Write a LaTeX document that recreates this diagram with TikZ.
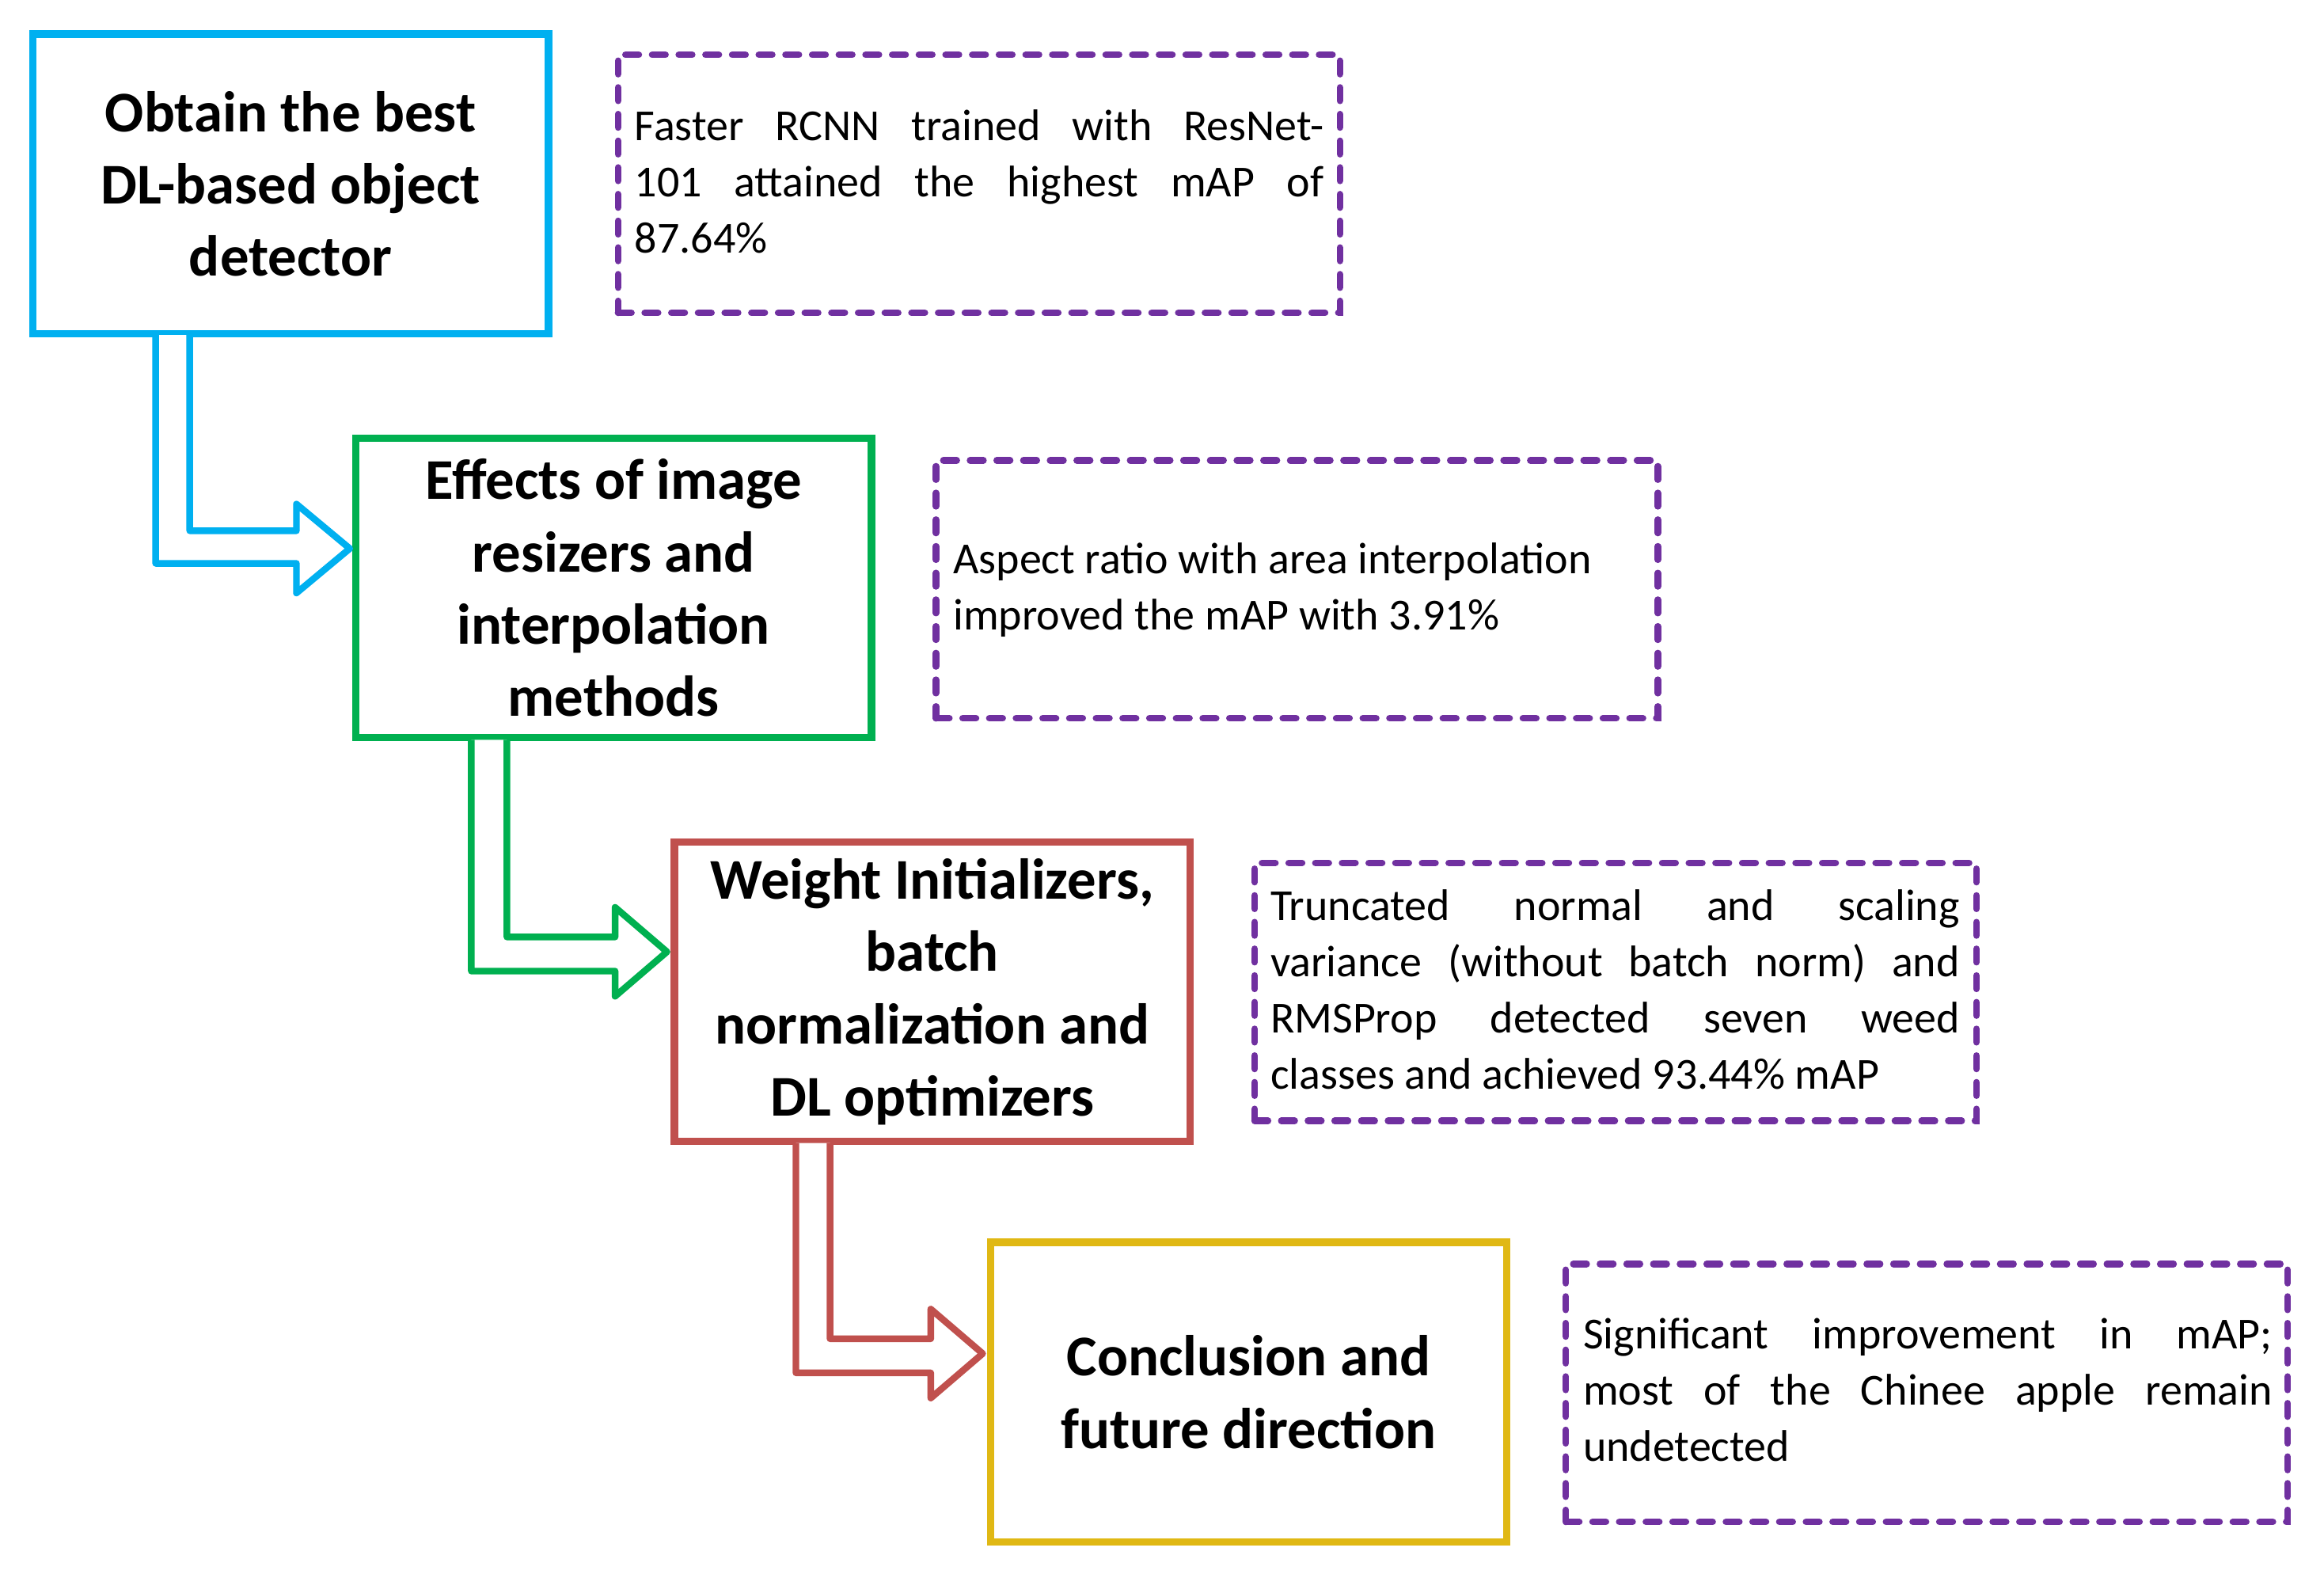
\documentclass[tikz,border=0pt]{standalone}
\usepackage{fontspec}
\setmainfont{Carlito}
\definecolor{cblue}{RGB}{0,176,240}
\definecolor{cgreen}{RGB}{0,176,80}
\definecolor{cred}{RGB}{192,80,77}
\definecolor{cgold}{RGB}{224,184,20}
\definecolor{cpurp}{RGB}{112,48,160}
\begin{document}
\begin{tikzpicture}[x=1bp,y=-1bp,
 main/.style={draw,line width=5bp,minimum width=348bp,minimum height=202bp,align=center,
   font=\fontsize{39}{49}\selectfont\bfseries,inner sep=0pt},
 note/.style={draw=cpurp,line width=4.5bp,dash pattern=on 9bp off 9bp,line cap=round,
   minimum width=487bp,minimum height=174bp,inner sep=0pt},
 ntext/.style={font=\fontsize{30}{38}\selectfont,align=left,anchor=north west,inner sep=0pt},
 arr/.style={line width=4.5bp,line join=round,fill=white}]
\useasboundingbox (0,0) rectangle (1568,1064);
\node[main,draw=cblue] (b1) at (196,124) {Obtain the best\\DL-based object\\detector};
\node[main,draw=cgreen] (b2) at (414,396.5) {Effects of image\\resizers and\\interpolation\\methods};
\node[main,draw=cred] (b3) at (629,669) {Weight Initializers,\\batch\\normalization and\\DL optimizers};
\node[main,draw=cgold] (b4) at (842.5,939) {Conclusion and\\future direction};
\node[note] (d1) at (660.5,124) {};
\node[note] (d2) at (875,397.5) {};
\node[note] (d3) at (1090,669) {};
\node[note] (d4) at (1300,939.5) {};
\def\W{465bp}
\node[ntext] (t1) at (428,74) {\hbox to\W{Faster\hfill RCNN\hfill trained\hfill with\hfill ResNet-}\\\hbox to\W{101\hfill attained\hfill the\hfill highest\hfill mAP\hfill of}\\87.64\%};
\node[ntext] (t2) at (643,366) {Aspect ratio with area interpolation\\improved the mAP with 3.91\%};
\node[ntext] (t3) at (857,600) {\hbox to\W{Truncated\hfill normal\hfill and\hfill scaling}\\\hbox to\W{variance\hfill (without\hfill batch\hfill norm)\hfill and}\\\hbox to\W{RMSProp\hfill detected\hfill seven\hfill weed}\\classes and achieved 93.44\% mAP};
\node[ntext] (t4) at (1068,889) {\hbox to\W{Significant\hfill improvement\hfill in\hfill mAP;}\\\hbox to\W{most\hfill of\hfill the\hfill Chinee\hfill apple\hfill remain}\\undetected};
\draw[arr,draw=cblue] (105,226)--(105,380)--(200,380)--(200,400)--(236,370)--(200,340)--(200,358)--(128,358)--(128,226);
\draw[arr,draw=cgreen] (318,499)--(318,655)--(415,655)--(415,672)--(450,642)--(415,612)--(415,632)--(342,632)--(342,499);
\draw[arr,draw=cred] (537,771)--(537,926)--(628,926)--(628,943)--(663,913)--(628,883)--(628,903)--(560,903)--(560,771);
\end{tikzpicture}
\end{document}
